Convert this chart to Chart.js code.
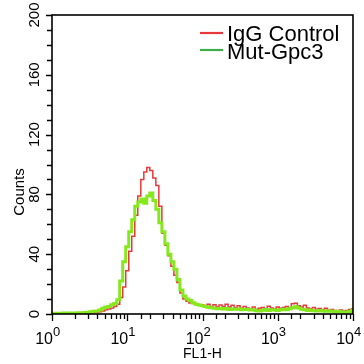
<!DOCTYPE html>
<html>
<head>
<meta charset="utf-8">
<script src="https://cdn.jsdelivr.net/npm/chart.js@4/dist/chart.umd.min.js"></script>
<style>
html,body{margin:0;padding:0;background:#fff;}
#wrap{width:364px;height:364px;}
</style>
</head>
<body>
<div id="wrap"><canvas id="c" width="364" height="364"></canvas></div>
<script>
// FL1-H channel values (log spaced bins)
const channels = [
 1, 1.096, 1.202, 1.318, 1.445, 1.585, 1.738, 1.905, 2.089, 2.291, 2.512, 2.754, 3.020, 3.311, 3.631, 3.981, 4.365, 4.786, 5.248, 5.754, 6.310, 6.918, 7.586, 8.318, 9.120,
 10, 10.96, 12.02, 13.18, 14.45, 15.85, 17.38, 19.05, 20.89, 22.91, 25.12, 27.54, 30.20, 33.11, 36.31, 39.81, 43.65, 47.86, 52.48, 57.54, 63.10, 69.18, 75.86, 83.18, 91.20,
 100, 109.6, 120.2, 131.8, 144.5, 158.5, 173.8, 190.5, 208.9, 229.1, 251.2, 275.4, 302.0, 331.1, 363.1, 398.1, 436.5, 478.6, 524.8, 575.4, 631.0, 691.8, 758.6, 831.8, 912.0,
 1000, 1096, 1202, 1318, 1445, 1585, 1738, 1905, 2089, 2291, 2512, 2754, 3020, 3311, 3631, 3981, 4365, 4786, 5248, 5754, 6310, 6918, 7586, 8318, 9120,
 10000
];
// IgG Control counts
const iggControl = [
 0.3,0.3,0.3,0.3,0.3,0.4,0.3,0.4,0.4,0.5,0.5,0.6,0.7,0.8,1.0,1.2,
 1.5,2.0,2.8,3.3,4.0,5.0,6.5,11,18,29,42,52,66,
 79,90,95,98,96,91,86,72,54,46,39,32,26,21,14,10,8.5,7.4,7.0,6.5,6.0,6.2,
 5.5,6.5,5.0,6.2,4.8,6.0,5.0,6.5,4.6,5.8, 4.2,5.5,3.8,5.0,4.0,3.4,4.6,3.0,3.8,4.4,
 3.3,5.2,4.0,3.4,4.6,3.8,4.4,5.0,4.2,6.8, 7.2,5.5,4.6,5.8,4.0,3.5,4.4,3.2,3.6,2.8,
 3.8,2.6,3.0,2.4,2.2,2.6,2.0,2.4,3.0,3.5
];
// Mut-Gpc3 counts
const mutGpc3 = [
 0.5,0.5,0.5,0.5,0.6,0.5,0.6,0.7,0.6,0.8,0.9,1.0,1.2,1.5,1.8,2.0,
 2.6,3.8,4.5,5.0,6.2,7.0,9.5,22,35,45,55,63,72,
 75,77,74,79,81,76,70,61,55,47,40,35,30,23,16,12,10,9,7.5,6.5,6.0,5.5,
 5.0,4.5,4.2,3.8,3.5,3.8,3.4,3.6,3.0,3.3, 3.1,3.4,2.8,3.2,3.0,2.6,2.9,2.2,2.0,2.5,
 3.0,2.4,2.8,2.6,2.4,2.9,3.2,2.8,3.5,4.2, 4.8,4.0,3.2,2.8,2.4,2.6,2.2,2.0,2.3,2.0,
 1.8,2.1,1.8,1.6,1.8,1.5,1.3,1.4,1.6,2.5
];
const seriesNames = ['IgG Control', 'Mut-Gpc3'];
const xTickExponents = ['0','1','2','3','4'];
const yTickLabels = [0, 40, 80, 120, 160, 200];
const xTitle = 'FL1-H';
const yTitle = 'Counts';

const RED = '#e8393a';
const GREEN = '#84e81c';
const LEG_GREEN = '#3fae4a';
const FONT = '"Liberation Sans", Arial, Helvetica, sans-serif';

function pts(arr){ return channels.map((c,i)=>({x:c, y:arr[i]})); }

const decor = {
  id: 'decor',
  afterDraw(chart){
    const ctx = chart.ctx;
    const xs = chart.scales.x, ys = chart.scales.y;
    const a = chart.chartArea;
    ctx.save();
    // frame
    ctx.strokeStyle = '#000';
    ctx.lineWidth = 1.6;
    ctx.strokeRect(a.left, a.top, a.right - a.left, a.bottom - a.top);
    // x ticks (from library's log scale ticks)
    ctx.lineWidth = 1.3;
    ctx.beginPath();
    xs.ticks.forEach(t => {
      const v = t.value;
      const px = Math.round(xs.getPixelForValue(v)) + 0.5;
      const lg = Math.log10(v);
      const major = Math.abs(lg - Math.round(lg)) < 1e-6;
      ctx.moveTo(px, a.bottom);
      ctx.lineTo(px, a.bottom + (major ? 7 : 5));
    });
    // y ticks
    ys.ticks.forEach(t => {
      const py = Math.round(ys.getPixelForValue(t.value)) + 0.5;
      const major = t.value % 40 === 0;
      ctx.moveTo(a.left, py);
      ctx.lineTo(a.left - (major ? 6 : 5), py);
    });
    ctx.stroke();
    // x tick labels 10^n
    ctx.fillStyle = '#000';
    xTickExponents.forEach(e => {
      const px = xs.getPixelForValue(Math.pow(10, +e));
      ctx.font = '16px ' + FONT;
      ctx.textAlign = 'right';
      ctx.textBaseline = 'alphabetic';
      ctx.fillText('10', px + 1, 344);
      ctx.font = '13px ' + FONT;
      ctx.textAlign = 'left';
      ctx.fillText(e, px + 1, 336);
    });
    // y tick labels (rotated)
    ctx.font = '15px ' + FONT;
    yTickLabels.forEach(v => {
      const py = ys.getPixelForValue(v);
      ctx.save();
      ctx.translate(39, py);
      ctx.rotate(-Math.PI/2);
      ctx.textAlign = 'center';
      ctx.textBaseline = 'alphabetic';
      ctx.fillText(String(v), 0, 0);
      ctx.restore();
    });
    // axis titles
    ctx.font = '14px ' + FONT;
    ctx.textAlign = 'center';
    ctx.fillText(xTitle, (a.left + a.right)/2, 358);
    ctx.save();
    ctx.translate(24, 192);
    ctx.rotate(-Math.PI/2);
    ctx.font = '15px ' + FONT;
    ctx.fillText(yTitle, 0, 0);
    ctx.restore();
    // legend
    const legColors = [RED, LEG_GREEN];
    const legY = [33, 50];
    const legBase = [41, 58.5];
    ctx.font = '22px ' + FONT;
    ctx.textAlign = 'left';
    seriesNames.forEach((n, i) => {
      ctx.strokeStyle = legColors[i];
      ctx.lineWidth = 2.2;
      ctx.beginPath();
      ctx.moveTo(200, legY[i]);
      ctx.lineTo(223, legY[i]);
      ctx.stroke();
      ctx.fillStyle = '#000';
      ctx.fillText(n, 227, legBase[i]);
    });
    ctx.restore();
  }
};

new Chart(document.getElementById('c'), {
  type: 'line',
  data: {
    datasets: [
      { label: seriesNames[0], data: pts(iggControl), borderColor: RED, borderWidth: 1.5,
        pointRadius: 0, stepped: 'middle', fill: false, order: 1 },
      { label: seriesNames[1], data: pts(mutGpc3), borderColor: GREEN, borderWidth: 3,
        pointRadius: 0, stepped: 'middle', fill: false, order: 0 }
    ]
  },
  options: {
    responsive: false,
    animation: false,
    events: [],
    layout: { padding: { top: 15, right: 11, bottom: 0, left: 0 } },
    plugins: { legend: { display: false }, tooltip: { enabled: false } },
    scales: {
      x: {
        type: 'logarithmic', min: 1, max: 10000,
        ticks: { display: false },
        grid: { display: false },
        border: { display: false },
        afterFit(s){ s.height = 50; }
      },
      y: {
        type: 'linear', min: 0, max: 200,
        ticks: { display: false, stepSize: 10 },
        grid: { display: false },
        border: { display: false },
        afterFit(s){ s.width = 52; }
      }
    }
  },
  plugins: [decor]
});
</script>
</body>
</html>
